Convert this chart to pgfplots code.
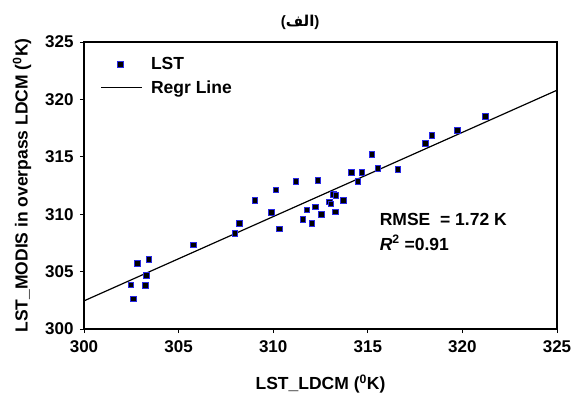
\documentclass[border=0pt]{standalone}
\usepackage{pgfplots}
\pgfplotsset{compat=1.18}
\usepackage{fontspec}
\setmainfont{Liberation Sans}
\newfontfamily\arabicfont[Script=Arabic]{DejaVu Sans}
\TeXXeTstate=1
\definecolor{mkblue}{RGB}{40,40,230}
\pgfplotsset{
  markleg/.style={legend image code/.code={\draw[##1] plot coordinates {(19pt,0pt)}; \path[draw=none] (0pt,0pt) -- (48pt,0pt);}},
  lineleg/.style={legend image code/.code={\draw[##1] (0pt,0pt) -- (41pt,0pt); \path[draw=none] (0pt,0pt) -- (48pt,0pt);}},
}
\begin{document}
\begin{tikzpicture}
\begin{axis}[
  scale only axis, width=473pt, height=287pt,
  xmin=300, xmax=325, ymin=300, ymax=325,
  xtick={300,305,...,325}, ytick={300,305,...,325},
  tick align=outside, major tick length=4pt,
  xtick pos=bottom, ytick pos=left,
  axis line style={line width=1.1pt},
  every tick/.style={black, line width=0.8pt},
  /pgf/number format/assume math mode=true,
  /pgf/number format/1000 sep={},
  tick label style={font=\fontsize{17}{19}\selectfont\bfseries},
  xticklabel style={yshift=-4pt},
  yticklabel style={xshift=-3pt},
  label style={font=\fontsize{17.5}{20}\selectfont\bfseries},
  xlabel={LST\_LDCM (\textsuperscript{0}K)},
  ylabel={LST\_MODIS in overpass LDCM (\textsuperscript{0}K)},
  xlabel style={at={(axis description cs:0.5,-0.192)},anchor=center},
  ylabel style={at={(axis description cs:-0.131,0.5)},anchor=center},
  legend style={draw=none, fill=none, at={(axis description cs:0.028,0.96)}, anchor=north west,
    font=\fontsize{17.5}{20}\selectfont\bfseries, row sep=5pt},
  legend cell align=left,
  clip=false,
]
\addplot[only marks, mark=square*, mark size=2.8pt, mark options={fill=black, draw=mkblue, line width=0.6pt}, markleg]
  table {
302.47 303.85
302.62 302.63
302.82 305.71
303.28 304.67
303.24 303.80
303.43 306.06
305.79 307.33
307.96 308.32
308.20 309.19
309.02 311.19
309.89 310.17
310.14 312.11
310.32 308.72
311.20 312.84
312.35 312.93
311.57 309.54
311.78 310.37
312.22 310.64
312.04 309.19
312.54 310.00
312.98 311.07
313.05 310.90
313.17 311.74
313.31 311.65
313.28 310.20
313.70 311.19
314.12 313.63
314.47 312.87
314.69 313.63
315.21 315.22
315.53 314.00
316.59 313.89
318.05 316.17
318.38 316.87
319.72 317.30
321.20 318.52
};
\addlegendentry{LST}
\addplot[black, line width=1.2pt, lineleg]
  coordinates {(300,302.45) (325,320.8)};
\addlegendentry{Regr Line}
\node[anchor=west, font=\fontsize{17.5}{20}\selectfont\bfseries] at (axis cs:315.45,309.5) {RMSE\ \ = 1.72 K};
\node[anchor=west, font=\fontsize{17.5}{20}\selectfont\bfseries] at (axis cs:315.45,307.5) {\textit{R}\textsuperscript{2} =0.91};
\node[font=\fontsize{15}{18}\selectfont\bfseries] at (axis description cs:0.457,1.07) {(\hbox{\arabicfont\bfseries\beginR الف\endR})};
\end{axis}
\pgfresetboundingbox
\path ([shift={(-84pt,-65pt)}]current axis.south west) rectangle ([shift={(26pt,42pt)}]current axis.north east);
\end{tikzpicture}
\end{document}
